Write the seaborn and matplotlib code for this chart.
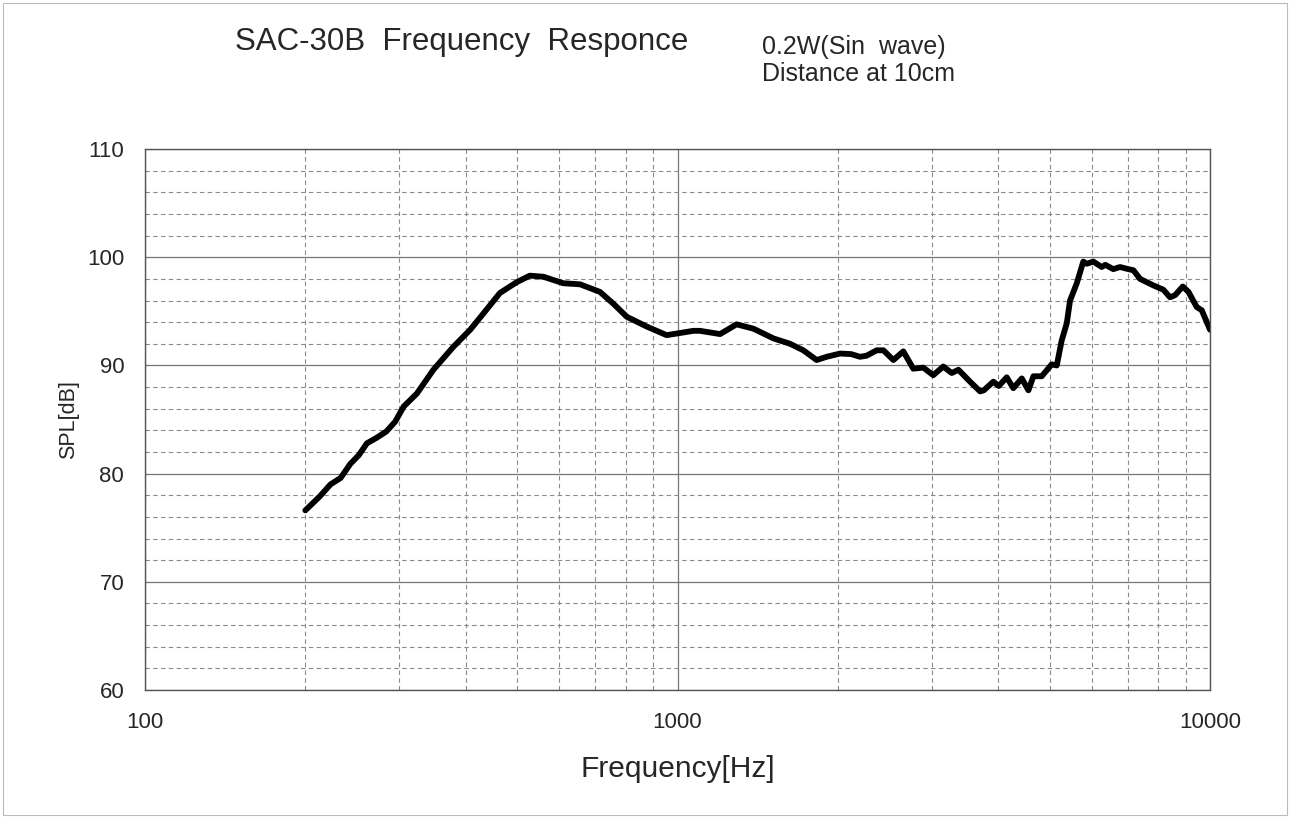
import numpy as np
import pandas as pd
import matplotlib
matplotlib.use("Agg")
import matplotlib.pyplot as plt
from matplotlib.ticker import FixedLocator, NullFormatter
import seaborn as sns

# values
freq_hz = [200, 213, 223, 233, 243, 252, 261, 272, 284, 295, 306, 324, 348,
           379, 408, 432, 464, 499, 528, 560, 610, 656, 715, 758, 803, 875,
           954, 1011, 1071, 1102, 1202, 1291, 1388, 1514, 1627, 1723, 1825,
           1906, 2020, 2118, 2201, 2265, 2366, 2436, 2543, 2655, 2772, 2894,
           3022, 3156, 3273, 3369, 3543, 3700, 3760, 3919, 4011, 4152, 4272,
           4431, 4560, 4660, 4830, 5043, 5155, 5265, 5383, 5459, 5621, 5781,
           5868, 6038, 6260, 6360, 6582, 6776, 7026, 7180, 7390, 7826, 8173,
           8413, 8600, 8888, 9110, 9440, 9650, 10000]
spl_db = [76.6, 77.9, 79.0, 79.6, 80.9, 81.7, 82.8, 83.3, 83.9, 84.8, 86.2,
          87.4, 89.6, 91.7, 93.3, 94.8, 96.7, 97.7, 98.3, 98.2, 97.6, 97.5,
          96.8, 95.7, 94.5, 93.6, 92.8, 93.0, 93.2, 93.2, 92.9, 93.8, 93.4,
          92.5, 92.0, 91.4, 90.5, 90.8, 91.1, 91.05, 90.8, 90.9, 91.4, 91.4,
          90.5, 91.3, 89.7, 89.8, 89.1, 89.9, 89.3, 89.6, 88.5, 87.6, 87.7,
          88.5, 88.1, 88.9, 87.9, 88.8, 87.7, 89.0, 89.0, 90.1, 90.0, 92.3,
          93.9, 96.0, 97.6, 99.6, 99.4, 99.6, 99.1, 99.3, 98.9, 99.1, 98.9,
          98.8, 98.0, 97.4, 97.0, 96.3, 96.5, 97.3, 96.8, 95.4, 95.1, 93.3]

x_ticks = [100, 1000, 10000]
y_ticks = [60, 70, 80, 90, 100, 110]

df = pd.DataFrame({"Frequency": freq_hz, "SPL": spl_db})

sns.set_style("white")
plt.rcParams["font.family"] = ["Liberation Sans", "DejaVu Sans"]

fig = plt.figure(figsize=(12.9, 8.17), dpi=100)
ax = fig.add_axes([0.1124, 0.1555, 0.8256, 0.662])

sns.lineplot(data=df, x="Frequency", y="SPL", color="black", linewidth=4.2, ax=ax)

ax.set_xscale("log")
ax.set_xlim(100, 10000)
ax.set_ylim(60, 110)

minor_x = [m * d for d in (100, 1000) for m in range(2, 10)]
ax.xaxis.set_major_locator(FixedLocator(x_ticks))
ax.xaxis.set_minor_locator(FixedLocator(minor_x))
ax.xaxis.set_minor_formatter(NullFormatter())
ax.set_xticklabels([str(v) for v in x_ticks])
ax.yaxis.set_major_locator(FixedLocator(y_ticks))
ax.yaxis.set_minor_locator(FixedLocator(list(range(62, 110, 2))))

ax.grid(which="major", color="#777777", linewidth=0.9, linestyle="-")
ax.grid(which="minor", color="#8a8a8a", linewidth=0.8, linestyle=(0, (4, 3)))
ax.tick_params(which="both", length=0)
ax.tick_params(axis="y", labelsize=16, pad=15)
ax.tick_params(axis="x", labelsize=16, pad=16)

for s in ax.spines.values():
    s.set_color("#555555")
    s.set_linewidth(1.0)

ax.set_xlabel("Frequency[Hz]", fontsize=21.5, labelpad=16)
ax.set_ylabel("SPL[dB]", fontsize=15.5, labelpad=6)

fig.text(0.358, 0.948, "SAC-30B  Frequency  Responce", fontsize=22.5,
         ha="center", va="center")
fig.text(0.591, 0.943, "0.2W(Sin  wave)", fontsize=18, ha="left", va="center")
fig.text(0.591, 0.910, "Distance at 10cm", fontsize=18, ha="left", va="center")

fig.patches.append(plt.Rectangle((0.002, 0.002), 0.996, 0.994, transform=fig.transFigure,
                                 fill=False, edgecolor="#bbbbbb", linewidth=0.8))

fig.savefig("out.png", dpi=100)
